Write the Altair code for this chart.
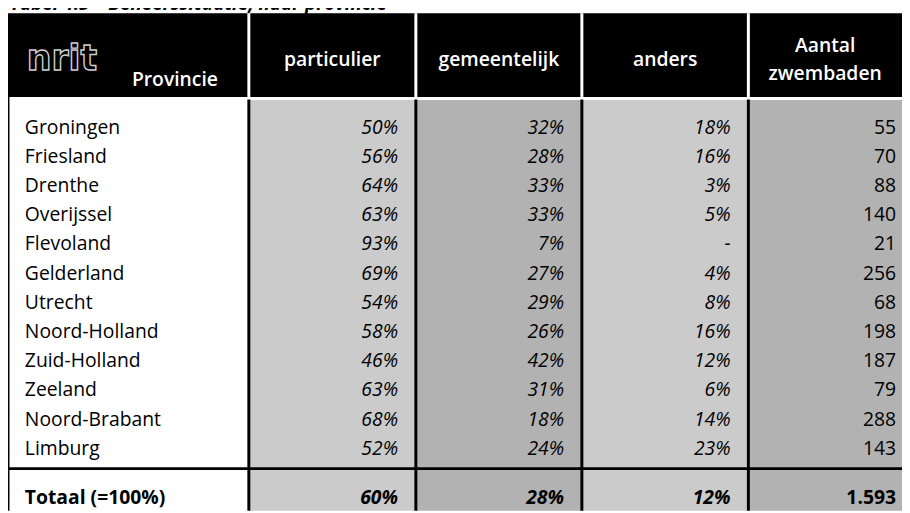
import altair as alt
import pandas as pd

# ---------------- data ----------------
title = "Tabel 4.5 – Beheerssituatie, naar provincie"
logo = "nrit"
col_headers = ["Provincie", "particulier", "gemeentelijk", "anders", "Aantal zwembaden"]
provinces = ["Groningen", "Friesland", "Drenthe", "Overijssel", "Flevoland", "Gelderland",
             "Utrecht", "Noord-Holland", "Zuid-Holland", "Zeeland", "Noord-Brabant", "Limburg"]
particulier = [50, 56, 64, 63, 93, 69, 54, 58, 46, 63, 68, 52]
gemeentelijk = [32, 28, 33, 33, 7, 27, 29, 26, 42, 31, 18, 24]
anders = [18, 16, 3, 5, None, 4, 8, 16, 12, 6, 14, 23]
aantal = [55, 70, 88, 140, 21, 256, 68, 198, 187, 79, 288, 143]
total_label = "Totaal (=100%)"
total_pct = [60, 28, 12]
total_aantal = 1593

# ---------------- layout (pixels inside the plot area) ----------------
W, H = 902, 505
FONT = "Open Sans"
FS = 19.5
edges = [0, 243, 411.5, 579, 747, 914]
header_top, header_bot = 3, 87.5
body_top = 90.5
row0, step = 118.5, 29.45
line_y = 462.5
total_y = 492
pad_r = 18
LIGHT, DARK = "#cbcbcb", "#b2b2b2"

def pct(v):
    return "-" if v is None else f"{v}%"

def nl_int(v):
    return f"{v:,}".replace(",", ".")

# rectangles
rects = []
rects.append(dict(x=edges[0], x2=edges[-1], y=header_top, y2=header_bot, c="black"))
fills = ["white", LIGHT, DARK, LIGHT, DARK]
for i in range(5):
    rects.append(dict(x=edges[i], x2=edges[i + 1], y=body_top, y2=H, c=fills[i]))
for e in edges[1:5]:
    rects.append(dict(x=e - 1.5, x2=e + 1.5, y=header_top, y2=header_bot, c="white"))
    rects.append(dict(x=e - 1.5, x2=e + 1.5, y=body_top - 0.5, y2=H, c="black"))
rects.append(dict(x=edges[0] - 1.5, x2=edges[0] + 1.5, y=header_bot, y2=H, c="black"))
rects.append(dict(x=edges[0], x2=edges[-1], y=line_y - 1.5, y2=line_y + 1.5, c="black"))
rect_df = pd.DataFrame(rects)

xs = alt.Scale(domain=[0, W], range=[0, W], nice=False, zero=False)
ys = alt.Scale(domain=[0, H], range=[0, H], nice=False, zero=False)

def X(f="x"):
    return alt.X(f"{f}:Q", scale=xs, axis=None)

def Y(f="y"):
    return alt.Y(f"{f}:Q", scale=ys, axis=None)

rect_layer = alt.Chart(rect_df).mark_rect(strokeWidth=0).encode(
    x=X(), x2="x2:Q", y=Y(), y2="y2:Q", color=alt.Color("c:N", scale=None))

def text_layer(df, **kw):
    return alt.Chart(df).mark_text(font=FONT, baseline="middle", **kw).encode(
        x=X(), y=Y(), text="t:N")

# title (cut off at the top, as in the reference)
title_df = pd.DataFrame([dict(x=edges[0] + 2, y=0, t=title)])
title_layer = alt.Chart(title_df).mark_text(
    font=FONT, baseline="alphabetic", align="left", fontSize=19,
    fontWeight="bold", fontStyle="italic", color="black").encode(x=X(), y=Y(), text="t:N")

# header texts
hdr = []
for i, h in enumerate(col_headers[1:4], start=1):
    hdr.append(dict(x=(edges[i] + edges[i + 1]) / 2, y=50, t=h))
last_c = (edges[4] + min(edges[5], W)) / 2
hdr.append(dict(x=last_c, y=36, t=col_headers[4].split(" ")[0]))
hdr.append(dict(x=last_c, y=64, t=col_headers[4].split(" ")[1]))
hdr_layer = text_layer(pd.DataFrame(hdr), align="center", fontSize=FS,
                       fontWeight=600, color="white")

prov_hdr = text_layer(pd.DataFrame([dict(x=125, y=70, t=col_headers[0])]),
                      align="left", fontSize=FS, fontWeight=600, color="white")

logo_layer = alt.Chart(pd.DataFrame([dict(x=19, y=60, t=logo)])).mark_text(
    font="DejaVu Sans", baseline="alphabetic", align="left", fontSize=35,
    fontWeight="bold", color="black", stroke="#cfcfcf", strokeWidth=1.4
).encode(x=X(), y=Y(), text="t:N")

# body
ycent = [row0 + step * i for i in range(len(provinces))]
names_df = pd.DataFrame(dict(x=[edges[0] + 17] * len(provinces), y=ycent, t=provinces))
names_layer = text_layer(names_df, align="left", fontSize=FS, color="black")

pcts = []
for ci, series in enumerate([particulier, gemeentelijk, anders], start=1):
    for yv, v in zip(ycent, series):
        pcts.append(dict(x=edges[ci + 1] - pad_r, y=yv, t=pct(v)))
pct_layer = text_layer(pd.DataFrame(pcts), align="right", fontSize=FS,
                       fontStyle="italic", color="black")

aant_df = pd.DataFrame(dict(x=[edges[5] - pad_r] * len(aantal), y=ycent,
                            t=[nl_int(v) for v in aantal]))
aant_layer = text_layer(aant_df, align="right", fontSize=FS, color="black")

# totals
tot_label_layer = text_layer(pd.DataFrame([dict(x=edges[0] + 17, y=total_y, t=total_label)]),
                             align="left", fontSize=FS, fontWeight="bold", color="black")
tot_pct_df = pd.DataFrame([dict(x=edges[ci + 1] - pad_r, y=total_y, t=pct(v))
                           for ci, v in enumerate(total_pct, start=1)])
tot_pct_layer = text_layer(tot_pct_df, align="right", fontSize=FS, fontWeight="bold",
                           fontStyle="italic", color="black")
tot_aant_layer = text_layer(pd.DataFrame([dict(x=edges[5] - pad_r, y=total_y,
                                               t=nl_int(total_aantal))]),
                            align="right", fontSize=FS, fontWeight="bold", color="black")

chart = alt.layer(
    title_layer, rect_layer, logo_layer, prov_hdr, hdr_layer, names_layer, pct_layer,
    aant_layer, tot_label_layer, tot_pct_layer, tot_aant_layer
).properties(
    width=W, height=H, padding=0, autosize=alt.AutoSizeParams(type="none")
).configure_view(stroke=None, clip=False)

chart.save("out.html", embed_options={"renderer": "svg", "actions": False})
